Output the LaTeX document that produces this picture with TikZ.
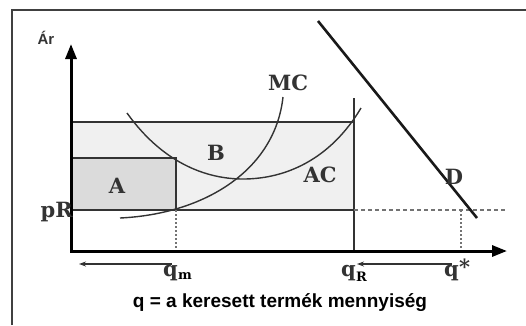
\documentclass[tikz,border=0pt]{standalone}
\usepackage{fontspec}
\setsansfont{Liberation Sans}
\newfontfamily\slabfont{DejaVu Serif}
\usepackage{tikz}
\usetikzlibrary{arrows.meta, calc}

\begin{document}
\begin{tikzpicture}[x=1pt, y=-1pt,
  frame/.style={draw=black!75, line width=1.5pt},
  axis/.style={line width=3pt, {Triangle[length=15pt,width=11pt]}-{Triangle[length=15pt,width=11pt]}},
  curve/.style={black!80, line width=1.4pt},
  edge/.style={black!80, line width=1.2pt},
  dashline/.style={black!55, line width=1.1pt, dash pattern=on 4pt off 3pt},
  dotline/.style={black!55, line width=1.2pt, dash pattern=on 2pt off 2pt},
  span/.style={black!80, line width=1.6pt, -{Stealth[length=7pt,width=5pt]}},
  lbl/.style={font=\slabfont\bfseries\fontsize{21}{25}\selectfont, text=black!80, inner sep=0pt},
  sublbl/.style={font=\slabfont\bfseries\fontsize{13}{15}\selectfont},
  captext/.style={font=\sffamily\bfseries\fontsize{19}{22}\selectfont, inner sep=0pt}
]
\useasboundingbox (0,0) rectangle (526,325);
\fill[white] (0,0) rectangle (526,325);
\draw[frame] (12,325) |- (526,10);

% Key points
\coordinate (O)    at (71,251);
\coordinate (ytip) at (71,44);
\coordinate (xtip) at (507,251);
\coordinate (top)  at (71,122);
\coordinate (pRL)  at (71,210);
\coordinate (qmP)  at (176,210);
\coordinate (qmB)  at (176,251);
\coordinate (Acor) at (176,158);
\coordinate (qRT)  at (354,98);
\coordinate (qRP)  at (354,210);
\coordinate (qRB)  at (354,251);
\coordinate (pRR)  at (505,210);
\coordinate (qsP)  at (461,210);
\coordinate (qsB)  at (461,251);

% Shaded areas
\fill[black!6] (top) rectangle (qRP);
\fill[black!14] (71,158) rectangle (qmP);

% Rectangles and guide lines
\draw[edge] (top) -- (354,122);
\draw[edge] (71,158) -- (Acor) -- (qmP);
\draw[edge] (pRL) -- (qRP);
\draw[edge] (qRT) -- (qRB);
\draw[dashline] (qRP) -- (pRR);
\draw[dotline] (qmP) -- (qmB);
\draw[dotline] (qsP) -- (qsB);

% Cost curves
\draw[curve] (120,218) .. controls (205,214) and (275,170) .. (283,97);
\draw[curve] (127,113) .. controls (162,162) and (205,179) .. (243,179)
  .. controls (285,179) and (330,160) .. (361,108);

% Demand
\draw[black!90, line width=2.6pt] (318,21) -- (477,218);

% Axes
\draw[axis] (ytip) |- (xtip);

% Labels
\node[font=\sffamily\bfseries\fontsize{15}{17}\selectfont, text=black!80, inner sep=0pt] (ar) at (46,38) {Ár};
\node[lbl] (mc) at (288,83) {MC};
\node[lbl] (ac) at (320,175) {AC};
\node[lbl] (bl) at (216,153) {B};
\node[lbl] (al) at (117,186) {A};
\node[lbl] (dl) at (454,177) {D};
\node[lbl, anchor=base east] (pr) at (73,217) {pR};

% Quantities below the axis
\node[lbl, anchor=north east] (qm) at (178,265) {q};
\node[sublbl, anchor=north west, inner sep=0pt] (qmsub) at (qm.south east) [yshift=9pt] {m};
\node[lbl, anchor=north east] (qR) at (356,265) {q};
\node[sublbl, anchor=north west, inner sep=0pt] (qRsub) at (qR.south east) [yshift=9pt] {R};
\node[lbl, anchor=north east] (qs) at (459,265) {q};
\node[lbl, anchor=north west] (star) at (qs.north east) [yshift=6pt] {*};

\coordinate (qmL)  at (172,264);
\coordinate (arrL) at (79,264);
\coordinate (qsL)  at (452,264);
\coordinate (qRr)  at (357,264);
\draw[span] (qmL) -- (arrL);
\draw[span] (qsL) -- (qRr);

\node[captext] (caption) at (280,303) {q = a keresett termék mennyiség};
\end{tikzpicture}
\end{document}
